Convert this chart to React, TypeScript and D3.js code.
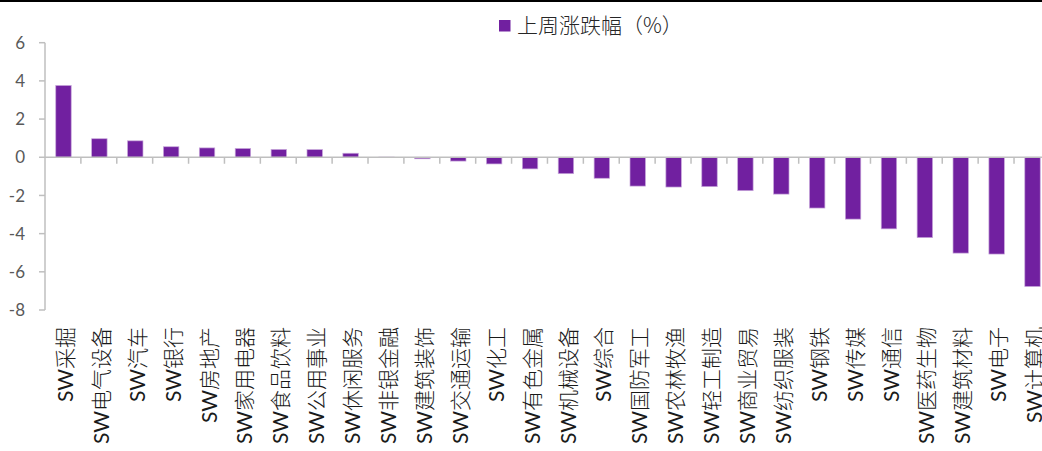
import React from "react";
import * as d3 from "d3";

const W = 1042;
const H = 451;

// 申万一级行业 上周涨跌幅（%）
const industries = [
  "SW采掘", "SW电气设备", "SW汽车", "SW银行", "SW房地产", "SW家用电器", "SW食品饮料",
  "SW公用事业", "SW休闲服务", "SW非银金融", "SW建筑装饰", "SW交通运输", "SW化工",
  "SW有色金属", "SW机械设备", "SW综合", "SW国防军工", "SW农林牧渔", "SW轻工制造",
  "SW商业贸易", "SW纺织服装", "SW钢铁", "SW传媒", "SW通信", "SW医药生物",
  "SW建筑材料", "SW电子", "SW计算机",
];
const weeklyChange = [
  3.76, 0.97, 0.86, 0.55, 0.49, 0.46, 0.41, 0.4, 0.21, 0.01, -0.08, -0.2, -0.35,
  -0.61, -0.86, -1.1, -1.51, -1.56, -1.54, -1.75, -1.93, -2.66, -3.24, -3.75,
  -4.21, -5.02, -5.07, -6.77,
];
const yTicks = [6, 4, 2, 0, -2, -4, -6, -8];
const legendLabel = "上周涨跌幅（%）";

const BAR = "#7120a0";
const AXIS = "#bfbfbf";
const TEXT = "#595959";

export default function App() {
  const x = d3
    .scaleBand<string>()
    .domain(industries)
    .range([45, 1051])
    .paddingInner(0.57)
    .paddingOuter(0.3);
  const y = d3.scaleLinear().domain([-8, 6]).range([310, 42.7]);
  const y0 = y(0);
  const step = x.step();
  const left = 45;

  return (
    <svg
      width={W}
      height={H}
      style={{ position: "absolute", left: 0, top: 0, background: "#fff" }}
    >
      <rect x={0} y={0} width={W} height={2} fill="#000" />

      {/* legend */}
      <rect x={499} y={20} width={11.5} height={11.5} fill={BAR} />
      <text
        x={517}
        y={33}
        fontSize={21}
        fill="#262626"
        fontFamily="'Noto Sans CJK SC', sans-serif"
        fontWeight={300}
      >
        {legendLabel}
      </text>

      {/* y axis */}
      <line x1={left} x2={left} y1={y(6)} y2={y(-8)} stroke={AXIS} strokeWidth={1.5} />
      {yTicks.map((t) => (
        <g key={t}>
          <line x1={left - 6} x2={left} y1={y(t)} y2={y(t)} stroke={AXIS} strokeWidth={1.5} />
          <text
            x={25}
            y={y(t)}
            dy="0.36em"
            textAnchor="end"
            fontSize={17}
            fill={TEXT}
            fontFamily="Lato, 'Open Sans', sans-serif"
          >
            {t}
          </text>
        </g>
      ))}

      {/* bars */}
      {industries.map((name, i) => {
        const v = weeklyChange[i];
        const top = Math.min(y(v), y0);
        const h = Math.abs(y(v) - y0);
        return (
          <rect
            key={name}
            x={x(name)}
            y={top}
            width={x.bandwidth()}
            height={h}
            fill={BAR}
            stroke="#c7a6da"
            strokeWidth={0.7}
          />
        );
      })}

      {/* x axis */}
      <line x1={left} x2={W} y1={y0} y2={y0} stroke={AXIS} strokeWidth={1.5} />
      {d3.range(1, industries.length + 1).map((i) => (
        <line
          key={i}
          x1={left + i * step}
          x2={left + i * step}
          y1={y0}
          y2={y0 + 6.5}
          stroke={AXIS}
          strokeWidth={1.5}
        />
      ))}

      {/* category labels */}
      {industries.map((name) => {
        const cx = (x(name) ?? 0) + x.bandwidth() / 2 + 2;
        return (
          <text
            key={name}
            transform={`translate(${cx},327) rotate(-90)`}
            dy="0.36em"
            textAnchor="end"
            fontSize={21}
            fill="#1a1a1a"
          >
            <tspan fontFamily="Lato, sans-serif">{name.slice(0, 2)}</tspan>
            <tspan fontFamily="'Noto Sans CJK SC', sans-serif" fontWeight={300}>
              {name.slice(2)}
            </tspan>
          </text>
        );
      })}
    </svg>
  );
}
